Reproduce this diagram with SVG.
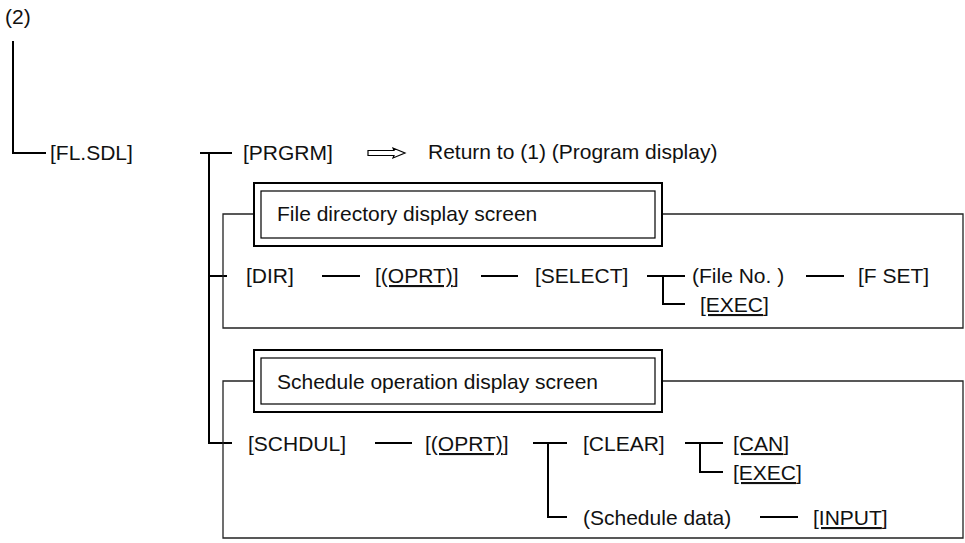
<svg xmlns="http://www.w3.org/2000/svg" width="965" height="543" viewBox="0 0 965 543">
<style>
text{font-family:"Liberation Sans",Arial,sans-serif;font-size:21px;fill:#111}
.c{stroke:#000;stroke-width:2;fill:none}
.g{stroke:#222;stroke-width:1.3;fill:none}
.bo{stroke:#000;stroke-width:2;fill:none}
.bi{stroke:#000;stroke-width:1.2;fill:none}
.u{text-decoration:underline}
.ar{stroke:#000;stroke-width:1.2;fill:#fff}
</style>
<rect width="965" height="543" fill="#fff"/>
<g id="connectors">
<path class="c" d="M13,41 V153 H46"/>
<path class="c" d="M200,153 H232 M209,153 V443 H232"/>
<path class="c" d="M209,276 H227"/>
<path class="c" d="M322,276 H360 M481,276 H518"/>
<path class="c" d="M647,276 H685 M663,276 V304 H685"/>
<path class="c" d="M806,276 H844"/>
<path class="c" d="M375,443 H412"/>
<path class="c" d="M533,443 H567 M548,443 V517 H567"/>
<path class="c" d="M685,443 H723 M700,443 V472 H723"/>
<path class="c" d="M760,517 H798"/>
<path class="ar" d="M368,150.5 H394 L393,148 L405,153 L393,158 L394,155.5 H368 Z"/>
</g>
<g id="root"><text x="5" y="24">(2)</text></g>
<g id="flsdl"><text x="50" y="160">[FL.SDL]</text></g>
<g id="prgrm"><text x="243" y="160">[PRGRM]</text></g>
<g id="return"><text x="428" y="159">Return to (1) (Program display)</text></g>
<g id="dir-group">
<path class="g" d="M254,214 H223 V328 H963 V214 H662"/>
<rect class="bo" x="254" y="183" width="408" height="63"/>
<rect class="bi" x="261" y="191" width="394" height="47"/>
<text x="277" y="221">File directory display screen</text>
</g>
<g id="dir"><text x="246" y="283">[DIR]</text></g>
<g id="dir-oprt"><text x="375" y="283"><tspan class="u">[(OPRT)</tspan>]</text></g>
<g id="select"><text x="535" y="283">[SELECT]</text></g>
<g id="fileno"><text x="692" y="283">(File No. )</text></g>
<g id="fset"><text x="858" y="283">[F SET]</text></g>
<g id="dir-exec"><text x="700" y="312"><tspan class="u">[EXEC</tspan>]</text></g>
<g id="sch-group">
<path class="g" d="M254,381 H223 V538 H963 V381 H662"/>
<rect class="bo" x="254" y="350" width="408" height="62"/>
<rect class="bi" x="261" y="358" width="394" height="46"/>
<text x="277" y="389">Schedule operation display screen</text>
</g>
<g id="schdul"><text x="248" y="451">[SCHDUL]</text></g>
<g id="sch-oprt"><text x="425" y="451"><tspan class="u">[(OPRT)</tspan>]</text></g>
<g id="clear"><text x="583" y="451">[CLEAR]</text></g>
<g id="can"><text x="733" y="451"><tspan class="u">[CAN</tspan>]</text></g>
<g id="sch-exec"><text x="733" y="480"><tspan class="u">[EXEC</tspan>]</text></g>
<g id="schdata"><text x="583" y="525">(Schedule data)</text></g>
<g id="input"><text x="813" y="525"><tspan class="u">[INPUT</tspan>]</text></g>
</svg>
